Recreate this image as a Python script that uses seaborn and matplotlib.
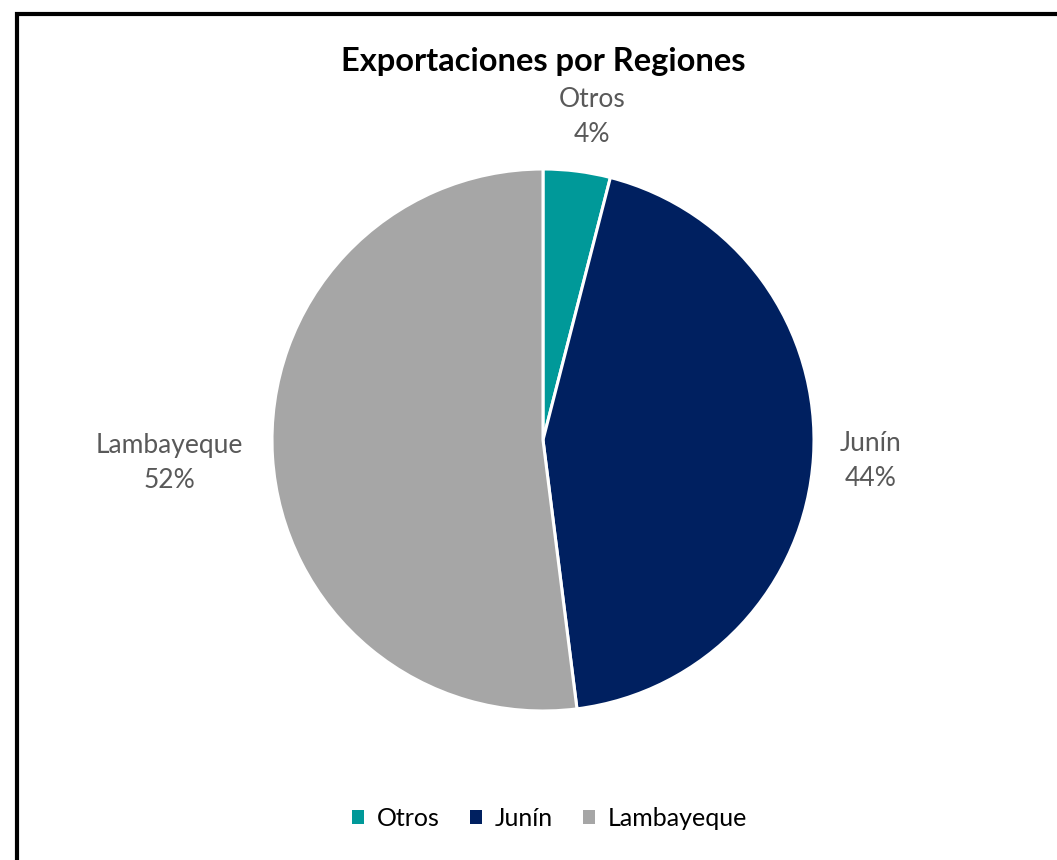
import numpy as np
import matplotlib
matplotlib.use("Agg")
import matplotlib.pyplot as plt
from matplotlib.patches import Patch, Rectangle
import seaborn as sns

# datos del grafico
regiones = ["Otros", "Junín", "Lambayeque"]
porcentajes = [4, 44, 52]
colores = ["#009999", "#002060", "#A6A6A6"]
titulo = "Exportaciones por Regiones"

sns.set_theme(style="white")
plt.rcParams['font.family'] = ['Lato', 'DejaVu Sans']

W, H = 1057, 860
fig = plt.figure(figsize=(W / 100, H / 100), dpi=100)
fig.patch.set_facecolor("white")

# marco negro del grafico (se corta a la derecha y abajo)
fig.patches.append(Rectangle((17 / W, -0.05), 1.2, (H - 14) / H + 0.05,
                             transform=fig.transFigure, fill=False,
                             edgecolor="black", linewidth=3, zorder=10))

# ejes del pie
r = 271
cx, cy = 543, 440
ax = fig.add_axes([(cx - r) / W, (H - cy - r) / H, 2 * r / W, 2 * r / H])
wedges, _ = ax.pie(porcentajes, colors=colores, startangle=90, counterclock=False,
                   radius=1, wedgeprops=dict(edgecolor="white", linewidth=2.2))
ax.set_xlim(-1, 1)
ax.set_ylim(-1, 1)
ax.set_aspect("equal")
ax.axis("off")

# etiquetas
dist = [1.2, 1.21, 1.38]
for w, nombre, p, d in zip(wedges, regiones, porcentajes, dist):
    ang = np.deg2rad((w.theta1 + w.theta2) / 2)
    ax.text(d * np.cos(ang) + (0.03 if p < 10 else 0), d * np.sin(ang), f"{nombre}\n{p}%",
            ha="center", va="center", fontsize=19, color="#595959",
            linespacing=1.5, clip_on=False)

fig.text(cx / W, 1 - 62 / H, titulo, ha="center", va="center",
         fontsize=23.5, fontweight="bold", color="black")

handles = [Patch(facecolor=c, edgecolor="none", label=n) for n, c in zip(regiones, colores)]
fig.legend(handles=handles, loc="center", bbox_to_anchor=(cx / W + 0.006, 1 - 818 / H),
           ncol=3, frameon=False, fontsize=18, handlelength=0.5, handleheight=0.5,
           handletextpad=0.5, columnspacing=1.2, labelcolor="black")

fig.savefig("out.png", dpi=100, facecolor="white")
